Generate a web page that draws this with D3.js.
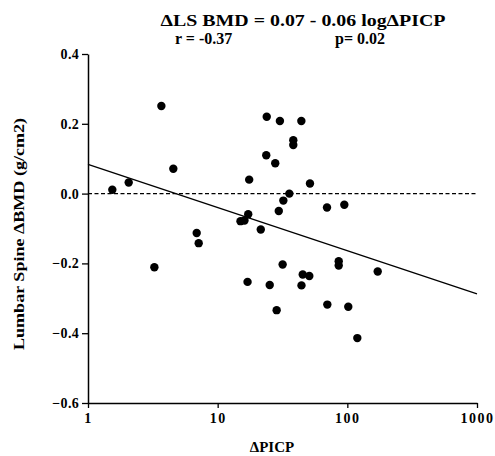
<!DOCTYPE html>
<html>
<head>
<meta charset="utf-8">
<script src="https://cdn.jsdelivr.net/npm/d3@7"></script>
<style>
  body { margin: 0; background: #fff; }
  text { font-family: "Liberation Serif", "DejaVu Serif", serif; font-weight: bold; fill: #000; }
</style>
</head>
<body>
<div id="chart"></div>
<script>
// ΔPICP (log x) and lumbar spine ΔBMD (g/cm2)
const picp = [1.54, 2.06, 3.68, 4.55, 3.25, 6.89, 7.14, 15.0, 16.1, 17.2,
              17.5, 21.5, 23.9, 23.7, 27.8, 30.2, 44.2, 38.3, 38.3, 35.7,
              32.1, 29.6, 51.5, 69.7, 94.8, 85.8, 85.8, 31.7, 171.5, 45.3,
              50.9, 17.0, 25.2, 44.3, 70.1, 101.7, 28.5, 119.4];
const bmd = [0.011, 0.032, 0.251, 0.071, -0.211, -0.113, -0.142, -0.079, -0.077, -0.059,
             0.040, -0.103, 0.220, 0.110, 0.087, 0.208, 0.208, 0.153, 0.139, 0.0,
             -0.020, -0.050, 0.029, -0.040, -0.032, -0.194, -0.206, -0.203, -0.223, -0.232,
             -0.236, -0.253, -0.262, -0.263, -0.318, -0.324, -0.334, -0.414];

// fitted line as drawn (end points at ΔPICP = 1 and 1000)
const fitX = [1, 1000];
const fitY = [0.084, -0.287];

const xTicks = [1, 10, 100, 1000];
const yTicks = [-0.6, -0.4, -0.2, 0.0, 0.2, 0.4];

const W = 495, H = 456;
const margin = { top: 54, right: 18, bottom: 53, left: 88 };
const width = W - margin.left - margin.right;
const height = H - margin.top - margin.bottom;

const svg = d3.select("#chart").append("svg")
    .attr("width", W)
    .attr("height", H);

const g = svg.append("g")
    .attr("transform", `translate(${margin.left},${margin.top})`);

const x = d3.scaleLog().domain([1, 1000]).range([0, width]);
const y = d3.scaleLinear().domain([-0.6, 0.4]).range([height, 0]);

// axes
const xAxis = g.append("g")
    .attr("transform", `translate(0,${height})`)
    .call(d3.axisBottom(x).tickValues(xTicks).tickFormat(d3.format("d"))
        .tickSize(5).tickSizeOuter(0).tickPadding(5));

const yAxis = g.append("g")
    .call(d3.axisLeft(y).tickValues(yTicks).tickFormat(d3.format(".1f"))
        .tickSize(6).tickSizeOuter(0).tickPadding(3));

[xAxis, yAxis].forEach(a => {
    a.attr("font-size", null).attr("font-family", null);
    a.select(".domain").attr("stroke", "#000").attr("stroke-width", 1.5);
    a.selectAll(".tick line").attr("stroke", "#000").attr("stroke-width", 1.3);
    a.selectAll(".tick text")
        .style("font-family", "'Liberation Serif', serif")
        .style("font-weight", "bold")
        .style("font-size", "14px")
        .attr("fill", "#000");
});
xAxis.selectAll(".tick text").style("letter-spacing", "1.5px");
yAxis.selectAll(".tick text").style("letter-spacing", "0.3px");

// zero reference line
g.append("line")
    .attr("x1", x(1)).attr("x2", x(1000))
    .attr("y1", y(0)).attr("y2", y(0))
    .attr("stroke", "#000")
    .attr("stroke-width", 1.4)
    .attr("stroke-dasharray", "4,2.5");

// regression line
g.append("line")
    .attr("x1", x(fitX[0])).attr("y1", y(fitY[0]))
    .attr("x2", x(fitX[1])).attr("y2", y(fitY[1]))
    .attr("stroke", "#000")
    .attr("stroke-width", 1.3);

// points
g.append("g")
    .selectAll("circle")
    .data(d3.range(picp.length))
    .enter()
    .append("circle")
    .attr("cx", i => x(picp[i]))
    .attr("cy", i => y(bmd[i]))
    .attr("r", 4.2)
    .attr("fill", "#000");

// title block
svg.append("text")
    .attr("x", 303)
    .attr("y", 26)
    .attr("text-anchor", "middle")
    .style("font-size", "16px")
    .attr("textLength", 285)
    .attr("lengthAdjust", "spacingAndGlyphs")
    .text("ΔLS BMD = 0.07 - 0.06 logΔPICP");

svg.append("text")
    .attr("x", 175)
    .attr("y", 44)
    .style("font-size", "16px")
    .text("r = -0.37");

svg.append("text")
    .attr("x", 335)
    .attr("y", 44)
    .style("font-size", "16px")
    .text("p= 0.02");

// axis titles
svg.append("text")
    .attr("transform", "translate(24,234) rotate(-90)")
    .attr("text-anchor", "middle")
    .style("font-size", "14px")
    .attr("textLength", 232)
    .attr("lengthAdjust", "spacingAndGlyphs")
    .text("Lumbar  Spine  ΔBMD  (g/cm2)");

svg.append("text")
    .attr("x", 272)
    .attr("y", 452)
    .attr("text-anchor", "middle")
    .style("font-size", "15px")
    .text("ΔPICP");
</script>
</body>
</html>
